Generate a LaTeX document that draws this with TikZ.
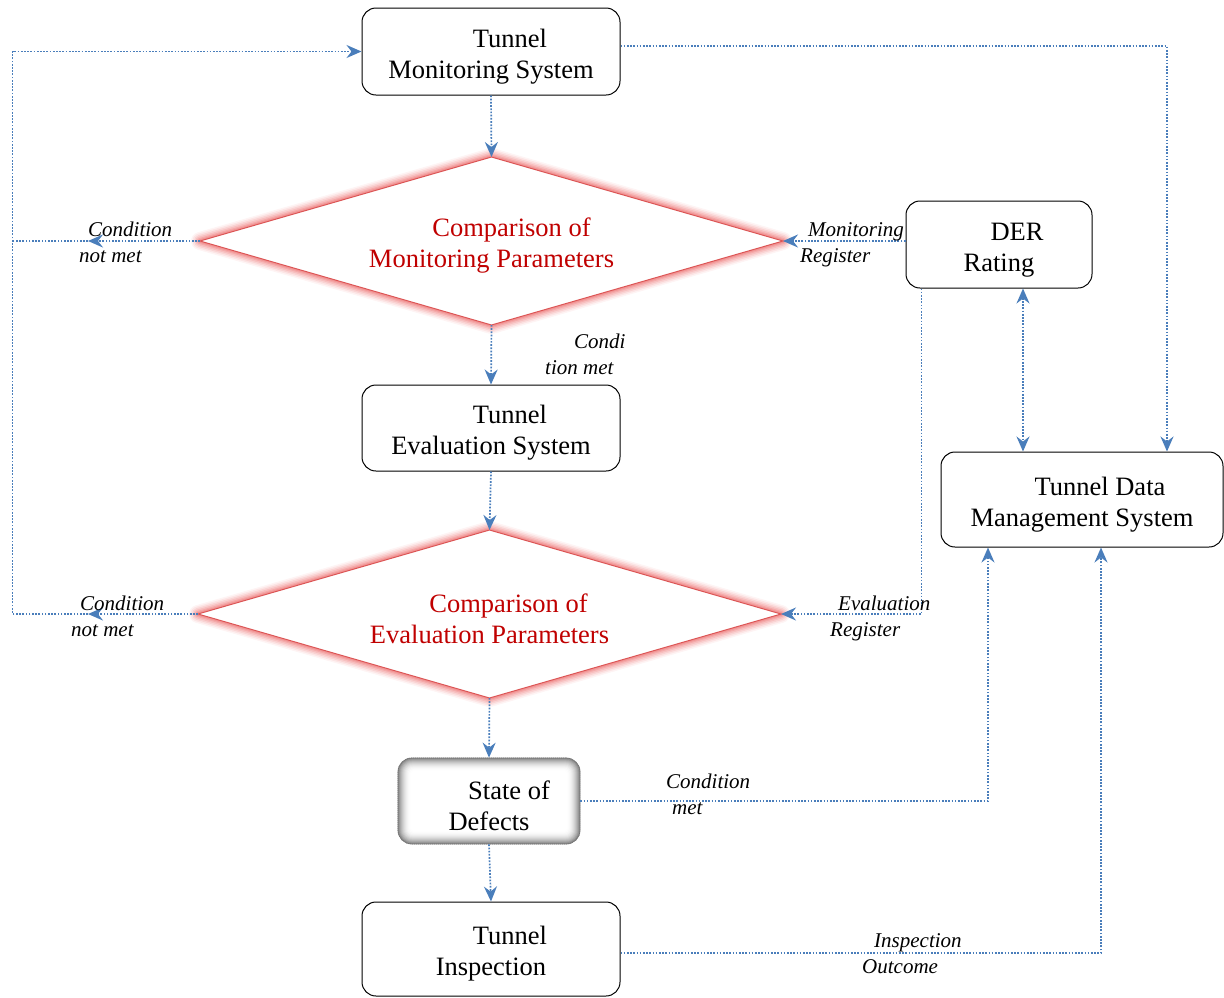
\documentclass[tikz,border=0pt]{standalone}
\usepackage{fontspec}
\setmainfont{Liberation Serif}
\usetikzlibrary{arrows.meta,shapes.geometric,backgrounds}
\definecolor{flow}{RGB}{74,126,187}
\definecolor{dline}{RGB}{220,85,85}
\definecolor{dtext}{RGB}{192,0,0}
\definecolor{glowc}{RGB}{235,100,100}
\newcommand\topstrut{\rule{0pt}{28pt}}
\tikzset{
  boxtext/.style={font=\fontsize{26.5}{31}\selectfont},
  procbox/.style={draw=black, line width=1pt, rounded corners=14pt, inner sep=0pt, align=center, boxtext},
  decision/.style={diamond, aspect=3.47, draw=dline, line width=1pt, fill=white, inner sep=0pt, outer sep=0pt,
    minimum width=583pt, minimum height=168pt, align=center, text=dtext, boxtext},
  flowline/.style={draw=flow, line width=1.7pt, dash pattern=on 1.7pt off 1.5pt},
  arr/.style={flowline, -{Stealth[length=15pt,width=13pt,inset=5pt]}},
  biarr/.style={flowline, {Stealth[length=15pt,width=13pt,inset=5pt]}-{Stealth[length=15pt,width=13pt,inset=5pt]}},
  tag/.style={inner sep=0pt, anchor=west, align=left, font=\fontsize{21}{26}\selectfont\itshape},
  glow/.style={glowc, line join=round},
}
\begin{document}
\begin{tikzpicture}[x=1pt, y=-1pt]
\useasboundingbox (0,0) rectangle (1224,997);

% process boxes
\node[procbox, minimum width=258pt, minimum height=87pt] (tms) at (491,51.5) {\topstrut\hspace*{38pt}Tunnel\\Monitoring System};
\node[procbox, minimum width=258pt, minimum height=86pt] (tes) at (491,428) {\topstrut\hspace*{38pt}Tunnel\\Evaluation System};
\node[procbox, minimum width=258pt, minimum height=94pt] (ti) at (491,949) {\topstrut\hspace*{38pt}Tunnel\\Inspection};
\node[procbox, minimum width=186pt, minimum height=87pt] (der) at (999,244.5) {\topstrut\hspace*{36pt}DER\\Rating};
\node[procbox, minimum width=282pt, minimum height=95pt] (tdms) at (1082,499.5) {\topstrut\hspace*{36pt}Tunnel Data\\Management System};
\node[procbox, draw=black!55, line width=0.7pt, dash pattern=on 1pt off 1pt, minimum width=182pt, minimum height=86pt] (sod) at (489,801) {\topstrut\hspace*{40pt}State of\\Defects};

% decisions
\node[decision] (d1) at (491.5,241) {\topstrut\hspace*{40pt}Comparison of\\Monitoring Parameters};
\node[decision] (d2) at (489.5,614) {\topstrut\hspace*{38pt}Comparison of\\Evaluation Parameters};

% soft red glow round the decisions, shaded rim of the defects box
\begin{scope}[on background layer]
  \foreach \w/\o in {18/0.07, 15/0.10, 12/0.14, 9/0.18, 6/0.24, 3.5/0.3} {
    \draw[glow, line width=\w pt, opacity=\o] (d1.north) -- (d1.east) -- (d1.south) -- (d1.west) -- cycle;
    \draw[glow, line width=\w pt, opacity=\o] (d2.north) -- (d2.east) -- (d2.south) -- (d2.west) -- cycle;
  }
  \foreach \i [evaluate=\i as \p using {100-50*(1-\i/13)^2}, evaluate=\i as \r using {14-\i*0.8}] in {0,...,13} {
    \fill[white!\p!black, rounded corners=\r pt] ([shift={(\i,\i)}]sod.north west) rectangle ([shift={(-\i,-\i)}]sod.south east);
  }
\end{scope}

% main flow
\draw[arr] (tms.south) -- (d1.north);
\draw[arr] (d1.south) -- (tes.north);
\draw[arr] (tes.south) -- (d2.north);
\draw[arr] (d2.south) -- (sod.north);
\draw[arr] (sod.south) -- (ti.north);

% "condition not met" return path
\coordinate (m1) at (88,241);
\coordinate (m2) at (88,614);
\coordinate (rail1) at (12.5,241);
\coordinate (rail2) at (12.5,614);
\draw[arr] (d1.west) -- (m1);
\draw[arr] (d2.west) -- (m2);
\draw[flowline] (m1) -- (rail1);
\draw[arr] (m2) -- (rail2) |- (tms.west);

% registers from the DER rating
\draw[arr] (d1.east -| der.west) -- (d1.east);
\draw[arr] ([xshift=16pt]der.south west) |- (d2.east);
\draw[biarr] ([xshift=24pt]der.south) -- ([xshift=24pt]der.south |- tdms.north);

% feeds into the data management system
\draw[arr] ([yshift=5.5pt]tms.east) -| ([xshift=85pt]tdms.north);
\draw[arr] (sod.east) -| ([xshift=-94pt]tdms.south);
\draw[arr] ([yshift=-4pt]ti.east) -| ([xshift=19pt]tdms.south);

% connector labels
\node[tag] (l1) at (79,242) {\hspace*{9pt}Condition\\not met};
\node[tag] (l2) at (71,616) {\hspace*{9pt}Condition\\not met};
\node[tag] (l3) at (800,245) {\hspace*{8pt}Monitoring\\Register};
\node[tag] (l4) at (830,618) {\hspace*{8pt}Evaluation\\Register};
\node[tag] (l5) at (545,354) {\hspace*{29pt}Condi\\tion met};
\node[tag] (l6) at (666,794) {Condition\\\hspace*{6pt}met};
\node[tag] (l7) at (862,954) {\hspace*{12pt}Inspection\\Outcome};
\end{tikzpicture}
\end{document}
